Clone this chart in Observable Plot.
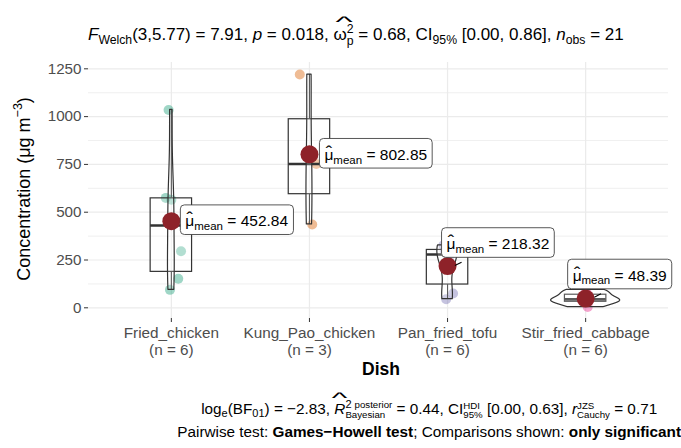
<!DOCTYPE html>
<html><head><meta charset="utf-8">
<script src="https://cdn.jsdelivr.net/npm/d3@7"></script>
<script src="https://cdn.jsdelivr.net/npm/@observablehq/plot@0.6"></script>
<style>
body{margin:0;background:#fff;font-family:"Liberation Sans",Arial,sans-serif;color:#000;}
#wrap{position:relative;width:681px;height:448px;overflow:hidden;background:#fff;}
#title{position:absolute;left:88px;top:23px;text-align:left;font-size:17px;line-height:20px;white-space:nowrap;}
#chart{position:absolute;left:0;top:50px;}
#cap{position:absolute;right:0;top:396px;text-align:center;font-size:15.3px;white-space:nowrap;}
#cap .l1{height:26px;line-height:26px;}
#cap .l2{height:20px;line-height:20px;}
sub{font-size:0.72em;vertical-align:-0.3em;line-height:0;}
.hatw{position:relative;display:inline-block;line-height:1;}
.hat{position:absolute;left:0;right:0;top:-0.62em;text-align:center;transform:scaleX(2.4);line-height:1;font-size:0.9em;}
.stk{display:inline-block;vertical-align:-0.4em;font-size:0.72em;line-height:1.0;text-align:left;}
.stk > span{display:block;}
.sm{font-size:0.88em;}
</style></head>
<body><div id="wrap">
<div id="title"><i>F</i><sub>Welch</sub>(3,5.77) = 7.91, <i>p</i> = 0.018, <span class="hatw"><span class="hat">^</span>ω<span class="stk"><span>2</span><span>p</span></span></span> = 0.68, CI<sub>95%</sub> [0.00, 0.86], <i>n</i><sub>obs</sub> = 21</div>
<div id="chart"></div>
<div id="cap"><div class="l1">log<sub>e</sub>(BF<sub>01</sub>) = −2.83, <span class="hatw"><span class="hat">^</span><i>R</i></span><span class="stk"><span>2 <span class="sm">posterior</span></span><span class="sm">Bayesian</span></span> = 0.44, CI<span class="stk"><span class="sm">HDI</span><span class="sm">95%</span></span> [0.00, 0.63], <i>r</i><span class="stk"><span class="sm">JZS</span><span class="sm">Cauchy</span></span> = 0.71</div>
<div class="l2">Pairwise test: <b>Games−Howell test</b>; Comparisons shown: <b>only significant</b></div></div>
</div>
<script>
// ---- data ----
const dishes = ["Fried_chicken", "Kung_Pao_chicken", "Pan_fried_tofu", "Stir_fried_cabbage"];
const friedChicken = [94, 152, 296, 565, 575, 1035];
const kungPao = [436, 752.55, 1220];
const panTofu = [45, 75, 262, 296, 305, 327];
const stirCabbage = [4, 30, 36, 52, 74, 94.3];
const meanLabels = ["452.84", "802.85", "218.32", "48.39"];
const yTicks = [0, 250, 500, 750, 1000, 1250];
const yMinor = [125, 375, 625, 875, 1125];
const colors = ["#1B9E77", "#D95F02", "#7570B3", "#E7298A"];
// ---- layout (jitter, label nudges in px) ----
const jitter = [[-0.01, 0.05, 0.07, 0.0, -0.04, -0.02], [0.02, 0.05, -0.07], [-0.01, 0.04, 0.01, -0.02, 0.02, -0.03], [0.015, -0.01, 0.01, -0.01, 0.01, 0.0]];
const labelNudge = [[14, 0], [15, 0.5], [-1, -22], [-13, -23]];
const segs = [null, null, [7.3, -0.6, 14, -3.9], [8.7, -1.3, 15.3, -4.7]];

const groups = [friedChicken, kungPao, panTofu, stirCabbage];
const xDomain = [-0.6, 3.6], xRange = [88, 668];
const yDomain = [-58, 1281], yRange = [268.4, 12.4];
const kx = (xRange[1] - xRange[0]) / (xDomain[1] - xDomain[0]);
const ky = (yRange[0] - yRange[1]) / (yDomain[1] - yDomain[0]);

const points = groups.flatMap((vals, g) => vals.map((v, j) => ({g, v, x: g + jitter[g][j]})));
const stats = groups.map((vals, g) => {
  const s = vals.slice().sort(d3.ascending);
  const q1 = d3.quantile(s, 0.25), q3 = d3.quantile(s, 0.75), med = d3.quantile(s, 0.5);
  const iqr = q3 - q1;
  return {g, q1, q3, med, lo: d3.min(s.filter(v => v >= q1 - 1.5 * iqr)), hi: d3.max(s.filter(v => v <= q3 + 1.5 * iqr)), mean: d3.mean(vals), label: meanLabels[g]};
});
function nrd0(v) {
  const s = v.slice().sort(d3.ascending);
  const iqr = d3.quantile(s, 0.75) - d3.quantile(s, 0.25);
  return 0.9 * Math.min(d3.deviation(v), iqr / 1.34) * Math.pow(v.length, -0.2);
}
const violin = [];
groups.forEach((vals, g) => {
  const bw = nrd0(vals);
  const [mn, mx] = d3.extent(vals);
  for (let k = 0; k < 512; k++) {
    const y = mn + (mx - mn) * k / 511;
    const d = d3.sum(vals, v => Math.exp(-0.5 * ((y - v) / bw) ** 2)) / (vals.length * bw * Math.sqrt(2 * Math.PI));
    violin.push({g, y, d});
  }
});
const dmax = d3.max(violin, d => d.d);
violin.forEach(p => { p.hw = p.d / dmax * 0.25; });

const segData = stats.filter(s => segs[s.g]).map(s => {
  const o = segs[s.g];
  return {x1: s.g + o[0] / kx, y1: s.mean - o[1] / ky, x2: s.g + o[2] / kx, y2: s.mean - o[3] / ky};
});

const ink = "#333333";
const plot = Plot.plot({
  width: 681, height: 338,
  marginLeft: 88, marginRight: 13, marginTop: 12, marginBottom: 70,
  style: {fontFamily: "Liberation Sans, Arial, sans-serif", background: "white", overflow: "visible"},
  x: {domain: xDomain, range: xRange},
  y: {domain: yDomain, range: yRange},
  marks: [
    Plot.ruleY(yMinor, {stroke: "#EBEBEB", strokeWidth: 0.8}),
    Plot.ruleY(yTicks, {stroke: "#EBEBEB", strokeWidth: 1.2}),
    Plot.ruleX([0, 1, 2, 3], {stroke: "#EBEBEB", strokeWidth: 1.2}),
    Plot.axisY({ticks: yTicks, tickFormat: d3.format("d"), tickSize: 4, tickPadding: 3, fontSize: 15.2, color: "#4D4D4D", stroke: ink, label: null}),
    Plot.axisX({ticks: [0, 1, 2, 3], tickFormat: i => dishes[i] + "\n(n = " + groups[i].length + ")", tickSize: 4, tickPadding: 3, fontSize: 15.3, lineHeight: 1.12, color: "#4D4D4D", stroke: ink, label: null}),
    Plot.dot(points, {x: "x", y: "v", r: 5, fill: d => colors[d.g], fillOpacity: 0.42, stroke: "none"}),
    Plot.ruleX(stats, {x: "g", y1: "q3", y2: "hi", stroke: ink, strokeWidth: 1.1}),
    Plot.ruleX(stats, {x: "g", y1: "lo", y2: "q1", stroke: ink, strokeWidth: 1.1}),
    Plot.rect(stats, {x1: d => d.g - 0.15, x2: d => d.g + 0.15, y1: "q1", y2: "q3", fill: "white", fillOpacity: 0.2, stroke: ink, strokeWidth: 1.2}),
    Plot.ruleY(stats, {x1: d => d.g - 0.15, x2: d => d.g + 0.15, y: "med", stroke: ink, strokeWidth: 2.6}),
    Plot.areaX(violin, {y: "y", x1: d => d.g - d.hw, x2: d => d.g + d.hw, z: "g", fill: "white", fillOpacity: 0.2, stroke: ink, strokeWidth: 1.2}),
    Plot.dot(stats, {x: "g", y: "mean", r: 9, fill: "#8E2229", stroke: "none"}),
    Plot.link(segData, {x1: "x1", y1: "y1", x2: "x2", y2: "y2", stroke: "black", strokeWidth: 1.1}),
    ...stats.map(s => Plot.text([s], {x: "g", y: "mean", text: "label", dx: labelNudge[s.g][0], dy: labelNudge[s.g][1], textAnchor: "start", fontSize: 15.5, fill: "black"}))
  ]
});
document.getElementById("chart").appendChild(plot);

const NS = "http://www.w3.org/2000/svg";
const svg = d3.select(plot);
const yt = svg.append("text").attr("transform", "translate(25,139) rotate(-90)").attr("text-anchor", "middle").attr("font-size", 18).attr("fill", "black").attr("dominant-baseline", "middle");
yt.append("tspan").text("Concentration (μg m");
yt.append("tspan").text("−3").attr("font-size", 12.5).attr("dy", -6.5);
yt.append("tspan").text(")").attr("dy", 6.5);
svg.append("text").attr("x", 381).attr("y", 320).attr("text-anchor", "middle").attr("dominant-baseline", "middle").attr("font-size", 17.5).attr("font-weight", "bold").attr("fill", "black").text("Dish");

// mean labels: rich text + rounded box
plot.querySelectorAll('g[aria-label="text"] text').forEach(t => {
  const val = t.textContent;
  t.textContent = "";
  const add = (s, attrs) => { const e = document.createElementNS(NS, "tspan"); e.textContent = s; for (const k in attrs) e.setAttribute(k, attrs[k]); t.appendChild(e); return e; };
  add("μ");
  add("ˆ", {dx: -7.7, dy: -0.8, "font-size": 19});
  add("mean", {dx: 1.3, dy: 4.6, "font-size": 11.5});
  add(" = " + val, {dy: -3.8});
  const bb = t.getBBox();
  const r = document.createElementNS(NS, "rect");
  r.setAttribute("x", bb.x - 5); r.setAttribute("y", bb.y - 3.5);
  r.setAttribute("width", bb.width + 10); r.setAttribute("height", bb.height + 6);
  r.setAttribute("rx", 4); r.setAttribute("fill", "white"); r.setAttribute("stroke", "#444"); r.setAttribute("stroke-width", 0.9);
  const tr = t.getAttribute("transform");
  if (tr) r.setAttribute("transform", tr);
  t.parentNode.insertBefore(r, t);
});
</script>
</body></html>
